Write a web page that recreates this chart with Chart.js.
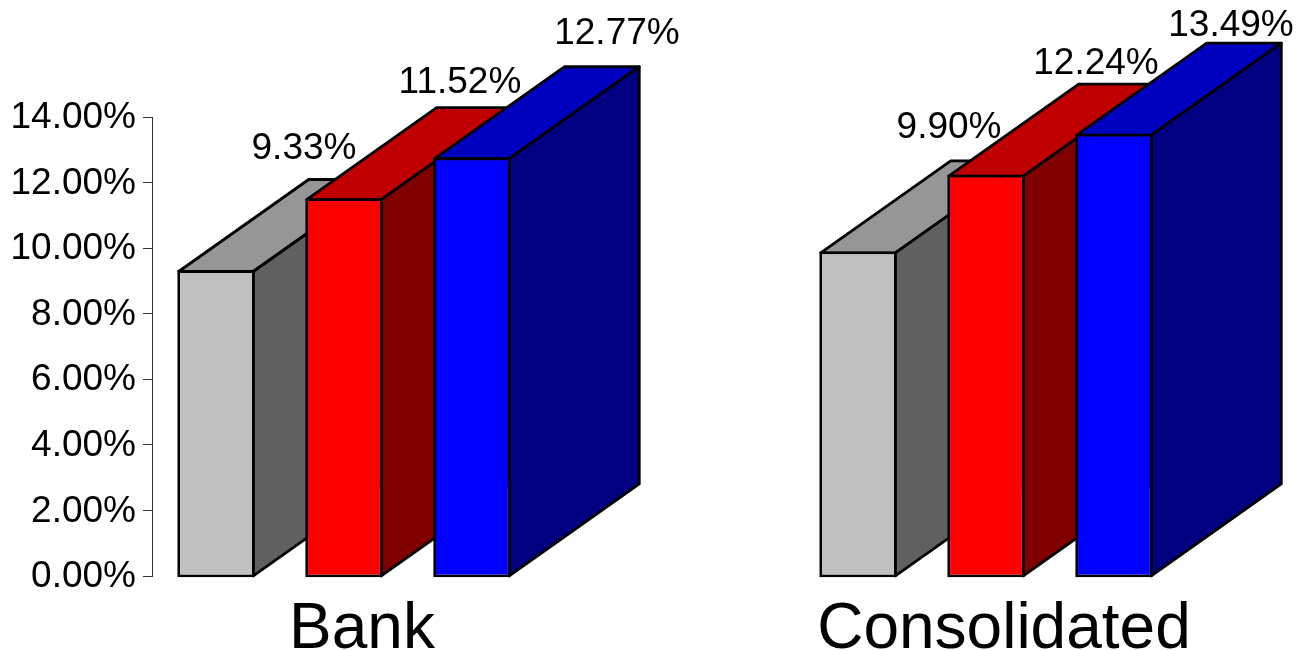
<!DOCTYPE html>
<html>
<head>
<meta charset="utf-8">
<title>Bank and Consolidated</title>
<script src="https://cdn.jsdelivr.net/npm/chart.js@4/dist/chart.umd.min.js"></script>
<style>
  html, body { margin: 0; padding: 0; background: #fff; }
  canvas { display: block; }
</style>
</head>
<body>
<canvas id="ratioChart" width="1298" height="650"></canvas>
<script>
const categories = ["Bank", "Consolidated"];
const greyValues = [9.33, 9.9];
const redValues = [11.52, 12.24];
const blueValues = [12.77, 13.49];
const yTicks = [0, 2, 4, 6, 8, 10, 12, 14];

// hand placed labels in the original, offset from the bar's top centre
const labelShift = [
  [[88, -121], [91, -124]],
  [[116, -116], [110, -111]],
  [[145, -124], [117, -108]],
];

// face colours: front, top, side
const faceColors = [
  ["#c0c0c0", "#969696", "#606060"],
  ["#ff0000", "#c00000", "#800000"],
  ["#0000ff", "#0000c0", "#000080"],
];
const depthX = 130;
const depthY = 92;
const edge = 2.8;
const font = "Liberation Sans, Arial, sans-serif";

function toPoints(values) {
  return values.map((v, i) => ({ x: i + 1, y: v }));
}

function face(ctx, pts, fill) {
  ctx.beginPath();
  pts.forEach((p, i) => (i ? ctx.lineTo(p[0], p[1]) : ctx.moveTo(p[0], p[1])));
  ctx.closePath();
  ctx.fillStyle = fill;
  ctx.fill();
  ctx.stroke();
}

// chart.js has no 3d bars, so draw top and side faces behind each dataset
const boxes = {
  id: "boxes",
  beforeDatasetsDraw(chart) {
    const ctx = chart.ctx;
    ctx.save();
    ctx.strokeStyle = "#000";
    ctx.lineWidth = edge;
    ctx.lineJoin = "round";
    chart.data.datasets.forEach((ds, d) => {
      const meta = chart.getDatasetMeta(d);
      meta.data.forEach((bar) => {
        const l = bar.x - bar.width / 2 + edge / 2;
        const r = bar.x + bar.width / 2 - edge / 2;
        const t = bar.y + edge / 2;
        const b = bar.base - edge / 2;
        face(ctx, [[l, t], [l + depthX, t - depthY], [r + depthX, t - depthY], [r, t]], faceColors[d][1]);
        face(ctx, [[r, t], [r + depthX, t - depthY], [r + depthX, b - depthY], [r, b]], faceColors[d][2]);
      });
      meta.controller.draw();
    });
    ctx.fillStyle = "#000";
    ctx.font = "37px " + font;
    ctx.textAlign = "center";
    ctx.textBaseline = "middle";
    chart.data.datasets.forEach((ds, d) => {
      chart.getDatasetMeta(d).data.forEach((bar, i) => {
        const s = labelShift[d][i];
        ctx.fillText(ds.data[i].y.toFixed(2) + "%", bar.x + s[0], bar.y + s[1]);
      });
    });
    ctx.restore();
    return false;
  },
};

function series(values, d) {
  return {
    data: toPoints(values),
    base: -0.04,
    backgroundColor: faceColors[d][0],
    borderColor: "#000",
    borderWidth: edge,
    borderSkipped: false,
    categoryPercentage: 0.598,
    barPercentage: 0.605,
  };
}

new Chart(document.getElementById("ratioChart"), {
  type: "bar",
  data: {
    datasets: [series(greyValues, 0), series(redValues, 1), series(blueValues, 2)],
  },
  plugins: [boxes],
  options: {
    responsive: false,
    animation: false,
    layout: {
      autoPadding: false,
      padding: { top: 117, right: 15, left: 0, bottom: 0 },
    },
    plugins: {
      legend: { display: false },
      tooltip: { enabled: false },
    },
    scales: {
      x: {
        type: "linear",
        offset: false,
        min: 0.701,
        max: 2.4626,
        // category names sit a little right of their bar groups
        afterBuildTicks(axis) {
          axis.ticks = categories.map((c, i) => ({ value: i + 1.028 }));
        },
        afterFit(axis) {
          axis.height = 74;
        },
        grid: { display: false },
        border: { display: false },
        ticks: {
          maxRotation: 0,
          autoSkip: false,
          padding: 8,
          color: "#000",
          font: { family: font, size: 64 },
          callback: (v, i) => categories[i],
        },
      },
      y: {
        min: 0,
        max: 14,
        afterBuildTicks(axis) {
          axis.ticks = yTicks.map((v) => ({ value: v }));
        },
        afterFit(axis) {
          axis.width = 152;
        },
        grid: { drawOnChartArea: false, tickLength: 9, color: "#333", lineWidth: 1 },
        border: { color: "#333", width: 1 },
        ticks: {
          padding: 7,
          labelOffset: 1,
          color: "#000",
          font: { family: font, size: 37 },
          callback: (v) => v.toFixed(2) + "%",
        },
      },
    },
  },
});
</script>
</body>
</html>
